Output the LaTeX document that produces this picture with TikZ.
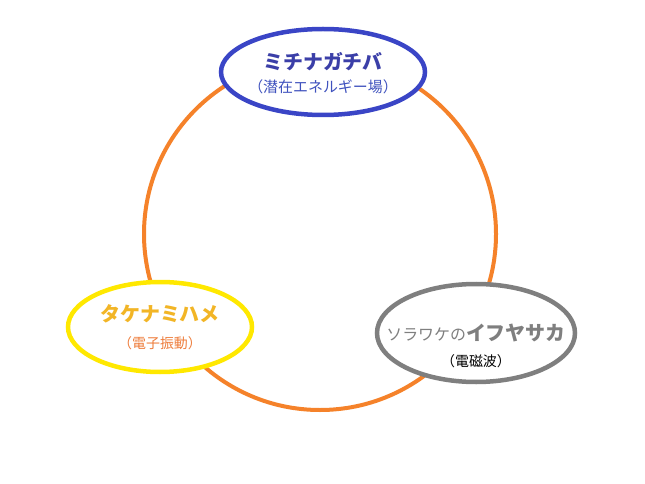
\documentclass[tikz,border=0pt]{standalone}
\usepackage{fontspec}
\setmainfont{Noto Sans CJK JP}
\usetikzlibrary{positioning,shapes.geometric}
\definecolor{Ring}{HTML}{F5822A}
\definecolor{BlueLine}{HTML}{3A45C6}
\definecolor{BlueText}{HTML}{3B3FA8}
\definecolor{BlueSub}{HTML}{3F52BE}
\definecolor{YellowLine}{HTML}{FFE800}
\definecolor{GoldText}{HTML}{F2B526}
\definecolor{OrangeText}{HTML}{EE7D3C}
\definecolor{GrayLine}{HTML}{7F7F7F}
\begin{document}
\begin{tikzpicture}[
    x=1bp, y=-1bp,
    ring/.style={circle, draw=Ring, line width=4bp, minimum size=352bp, inner sep=0pt},
    field/.style={ellipse, fill=white, line width=4.5bp, inner sep=0pt},
    caption/.style={align=center, inner sep=0pt}
  ]
    \useasboundingbox (0,0) rectangle (645,484);

    % Ring
    \node (cycle) [ring] at (320,234) {};

    % Fields
    \node (potential) [field, draw=BlueLine, minimum width=204bp, minimum height=86bp] at (323,72) {};
    \node (electron) [field, draw=YellowLine, minimum width=184bp, minimum height=90bp] at (160,327) {};
    \node (wave) [field, draw=GrayLine, minimum width=198bp, minimum height=98bp] at (476,333) {};

    % Captions
    \node (potentialText) [caption] at ([yshift=-1bp]potential.center)
      {\fontsize{20}{24}\selectfont\bfseries\color{BlueText}ミチナガチバ\\[8bp]
       \fontsize{15}{18}\selectfont\color{BlueSub}（潜在エネルギー場）};
    \node (electronText) [caption] at (electron.center)
      {\fontsize{20}{24}\selectfont\bfseries\color{GoldText}タケナミハメ\\[12bp]
       \fontsize{14}{17}\selectfont\color{OrangeText}（電子振動）};
    \node (waveText) [caption] at ([yshift=-13bp]wave.center)
      {\color{GrayLine}{\fontsize{16}{24}\selectfont ソラワケの}{\fontsize{20}{24}\selectfont\bfseries イフヤサカ}\\[11bp]
       \fontsize{14}{17}\selectfont\color{black}（電磁波）};
  \end{tikzpicture}
\end{document}
